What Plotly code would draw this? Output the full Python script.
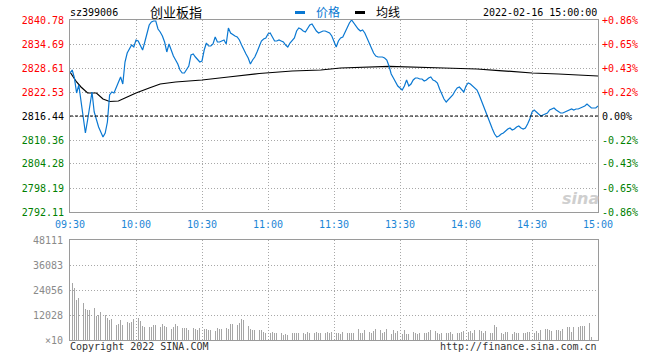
import plotly.graph_objects as go

W, H = 660, 360
BASE = 2816.44

minutes = list(range(241))
time_tick_idx = [0, 30, 60, 90, 120, 150, 180, 210, 240]
time_tick_lbl = ["09:30", "10:00", "10:30", "11:00", "11:30", "13:30", "14:00", "14:30", "15:00"]
price_ticks = [2840.78, 2834.69, 2828.61, 2822.53, 2816.44, 2810.36, 2804.28, 2798.19, 2792.11]
pct_labels = ["+0.86%", "+0.65%", "+0.43%", "+0.22%", "0.00%", "-0.22%", "-0.43%", "-0.65%", "-0.86%"]
vol_ticks = [0, 12028, 24056, 36083, 48111]
vol_tick_lbl = ["×10", "12028", "24056", "36083", "48111"]

price = [
    2827.34, 2828.10, 2826.08, 2822.27, 2824.30, 2820.50, 2815.93, 2812.13, 2815.43, 2818.72,
    2822.53, 2817.46, 2815.43, 2813.66, 2812.39, 2811.12, 2812.13, 2814.92, 2821.77, 2822.53,
    2822.27, 2823.54, 2825.06, 2826.33, 2824.55, 2830.13, 2832.41, 2833.43, 2834.44, 2833.93,
    2835.71, 2835.46, 2834.44, 2833.17, 2835.20, 2837.48, 2839.51, 2840.27, 2840.53, 2840.53,
    2838.50, 2837.74, 2836.72, 2835.20, 2832.67, 2834.69, 2832.92, 2831.65, 2830.64, 2829.62,
    2828.10, 2827.34, 2827.34, 2828.10, 2829.12, 2831.91, 2832.16, 2831.40, 2830.89, 2830.13,
    2830.39, 2833.17, 2834.95, 2834.19, 2834.19, 2834.69, 2836.47, 2835.20, 2835.20, 2835.46,
    2835.71, 2834.69, 2838.75, 2837.48, 2836.98, 2836.72, 2836.47, 2835.71, 2834.44, 2833.17,
    2832.16, 2831.15, 2829.62, 2830.64, 2831.40, 2832.67, 2833.93, 2835.46, 2835.96, 2836.22,
    2837.23, 2837.48, 2836.47, 2835.46, 2835.46, 2835.71, 2835.46, 2835.20, 2834.44, 2833.93,
    2834.95, 2835.46, 2836.22, 2837.99, 2838.75, 2838.50, 2837.99, 2837.74, 2838.75, 2839.51,
    2839.77, 2838.75, 2837.99, 2837.48, 2837.74, 2837.99, 2837.99, 2837.74, 2837.48, 2836.72,
    2835.20, 2833.93, 2835.46, 2836.22, 2836.47, 2837.74, 2838.75, 2840.02, 2840.78, 2840.02,
    2839.01, 2838.50, 2837.99, 2838.25, 2837.48, 2836.22, 2834.95, 2833.68, 2832.41, 2831.65,
    2831.40, 2831.40, 2831.40, 2831.15, 2830.64, 2829.12, 2827.09, 2826.08, 2825.06, 2824.05,
    2823.54, 2823.03, 2824.05, 2825.57, 2824.05, 2824.55, 2825.57, 2826.08, 2826.08, 2825.82,
    2825.82, 2825.32, 2825.57, 2826.08, 2826.33, 2825.57, 2825.32, 2824.81, 2823.29, 2821.77,
    2820.75, 2819.99, 2820.50, 2821.01, 2821.77, 2822.78, 2823.54, 2823.79, 2823.03, 2822.53,
    2824.05, 2824.81, 2824.55, 2824.05, 2823.54, 2823.03, 2821.77, 2820.25, 2818.72, 2817.20,
    2815.93, 2814.67, 2813.15, 2811.88, 2811.12, 2811.37, 2811.88, 2812.13, 2812.64, 2813.15,
    2813.40, 2812.89, 2813.15, 2813.66, 2813.91, 2813.40, 2813.15, 2813.40, 2814.41, 2815.68,
    2817.46, 2817.96, 2817.46, 2816.95, 2816.44, 2816.70, 2816.95, 2817.20, 2817.96, 2818.22,
    2818.47, 2817.96, 2817.46, 2817.20, 2817.20, 2817.46, 2817.71, 2817.96, 2818.22, 2817.96,
    2818.22, 2818.22, 2818.47, 2818.72, 2818.98, 2819.48, 2818.98, 2818.47, 2818.47, 2818.47,
    2818.98,
]

avg_idx = [0, 3, 5, 8, 12, 15, 18, 22, 26, 30, 36, 41, 48, 60, 72, 86, 101, 114, 123,
           140, 145, 170, 185, 195, 210, 222, 240]
avg_val = [2827.60, 2825.06, 2823.79, 2822.27, 2822.27, 2820.75, 2820.12, 2820.25, 2821.26,
           2822.27, 2823.54, 2824.55, 2825.06, 2825.57, 2826.33, 2827.22, 2827.85, 2828.10,
           2828.61, 2828.92, 2829.04, 2828.61, 2828.36, 2827.97, 2827.34, 2827.09, 2826.58]

volume = [
    48111, 27580, 25180, 19240, 20370, 16840, 17640, 14910, 14430, 14430,
    16360, 15240, 11550, 12030, 13630, 9620, 12030, 10420, 9620, 9940,
    10900, 7220, 7700, 9620, 7220, 9620, 8820, 8020, 8820, 9940,
    10740, 10420, 9140, 6740, 6420, 6740, 6090, 6420, 7220, 7220,
    7220, 6090, 7540, 6740, 6420, 5610, 5130, 6420, 7540, 6740,
    6740, 5930, 5610, 5610, 4810, 5930, 5930, 5130, 4810, 5610,
    5450, 5130, 5130, 4810, 4810, 5130, 4490, 5930, 5450, 5130,
    5930, 5930, 5290, 7700, 7540, 5290, 7220, 8340, 10100, 9620,
    8020, 6740, 5130, 4810, 4810, 4490, 4810, 4810, 3690, 3530,
    3850, 3530, 3690, 3210, 3210, 2890, 3210, 2250, 2730, 2250,
    4330, 3530, 3530, 3210, 3210, 4330, 3210, 2890, 3850, 3210,
    3210, 3210, 3850, 3210, 3530, 3210, 3210, 3850, 3530, 4010,
    9620, 3210, 3210, 2730, 3850, 3530, 3530, 3530, 3530, 3530,
    4490, 5290, 3210, 3210, 4810, 4490, 4010, 3530, 4490, 5290,
    4490, 4650, 3210, 4010, 5290, 4490, 2730, 4810, 3530, 4490,
    4490, 2890, 4810, 2730, 2730, 3210, 4010, 3210, 2730, 3210,
    3210, 3210, 3210, 4010, 4810, 3530, 4490, 3530, 2890, 3530,
    3850, 3530, 3210, 4010, 2730, 3210, 3530, 3210, 3850, 4330,
    3210, 3850, 4490, 3530, 4810, 5130, 4810, 4490, 3530, 4490,
    4170, 3210, 3530, 7220, 6090, 4490, 3530, 2890, 3850, 3850,
    3530, 2890, 3850, 3530, 3210, 3530, 3530, 3530, 3850, 4010,
    3530, 3210, 4170, 3530, 4810, 4490, 5130, 5130, 4810, 4490,
    4010, 4810, 4810, 4490, 5130, 4490, 6090, 6090, 4010, 6410,
    6730, 6410, 6730, 6730, 6730, 6730, 8340, 1600, 0, 0,
    0,
]

BLUE = "#0a78d2"
TBLUE = "#1c86d6"
RED = "#ff0000"
GREEN = "#008000"
BORDER = "#9a9a9a"
GRID = "#a8a8a8"
MONO = "DejaVu Sans Mono"
CJK = "Noto Sans CJK SC"


def px(x):
    return x / W


def py(y):
    return 1 - y / H


def colored(labels):
    out = []
    for i, t in enumerate(labels):
        c = RED if i < 4 else ("#000000" if i == 4 else GREEN)
        out.append(f'<span style="color:{c}">{t}</span>')
    return out


pct = [(p - BASE) / BASE * 100 for p in price]
pct_ticks = [(p - BASE) / BASE * 100 for p in price_ticks]

fig = go.Figure()
fig.add_trace(go.Bar(x=minutes, y=volume, xaxis="x2", yaxis="y3", width=0.4,
                     marker=dict(color="#a6a6a6", line=dict(width=0)), hoverinfo="skip"))
fig.add_trace(go.Scatter(x=minutes, y=pct, xaxis="x", yaxis="y2", mode="lines",
                         line=dict(width=0, color="rgba(0,0,0,0)"), hoverinfo="skip"))
fig.add_trace(go.Scatter(x=avg_idx, y=avg_val, xaxis="x", yaxis="y", mode="lines",
                         line=dict(color="#000000", width=1.2)))
fig.add_trace(go.Scatter(x=minutes, y=price, xaxis="x", yaxis="y", mode="lines",
                         line=dict(color=BLUE, width=1.2)))

common_x = dict(domain=[px(70), px(598)], range=[0, 240], tickvals=time_tick_idx,
                showgrid=True, gridcolor=GRID, griddash="1px,2px", gridwidth=1,
                showline=True, mirror=True, linecolor=BORDER, linewidth=1,
                zeroline=False, fixedrange=True, automargin=False)

fig.update_layout(
    width=W, height=H, autosize=False,
    margin=dict(l=0, r=0, t=0, b=0, autoexpand=False),
    paper_bgcolor="white", plot_bgcolor="white",
    showlegend=False, bargap=0,
    font=dict(family=MONO, size=10, color="#000"),
    xaxis=dict(**common_x, anchor="y", ticktext=time_tick_lbl,
               tickfont=dict(family=MONO, size=10, color=TBLUE),
               ticks="outside", ticklen=3, tickcolor="rgba(0,0,0,0)"),
    yaxis=dict(domain=[py(212), py(20)], range=[price_ticks[-1], price_ticks[0]],
               anchor="x", tickvals=price_ticks, ticktext=colored(price_ticks),
               tickfont=dict(family=MONO, size=10),
               ticks="outside", ticklen=3, tickcolor="rgba(0,0,0,0)",
               showgrid=True, gridcolor=GRID, griddash="1px,2px", gridwidth=1,
               showline=True, mirror=True, linecolor=BORDER, linewidth=1,
               zeroline=False, fixedrange=True, automargin=False),
    yaxis2=dict(overlaying="y", side="right", anchor="x",
                range=[pct_ticks[-1], pct_ticks[0]], tickvals=pct_ticks,
                ticktext=colored(pct_labels), tickfont=dict(family=MONO, size=10),
                ticks="outside", ticklen=1, tickcolor="rgba(0,0,0,0)",
                showgrid=False, showline=False, zeroline=False, fixedrange=True,
                automargin=False),
    xaxis2=dict(**common_x, anchor="y3", showticklabels=False, ticks=""),
    yaxis3=dict(domain=[py(340), py(240)], range=[0, vol_ticks[-1]], anchor="x2",
                tickvals=vol_ticks, ticktext=vol_tick_lbl,
                tickfont=dict(family=MONO, size=10, color="#8a8a8a"),
                ticks="outside", ticklen=4, tickcolor="rgba(0,0,0,0)",
                showgrid=True, gridcolor=GRID, griddash="1px,2px", gridwidth=1,
                showline=True, mirror=True, linecolor=BORDER, linewidth=1,
                zeroline=False, fixedrange=True, automargin=False),
)

shapes = [
    dict(type="line", xref="x", yref="y", x0=0, x1=240, y0=BASE, y1=BASE,
         line=dict(color="#000000", width=1, dash="3px,2px")),
    dict(type="rect", xref="paper", yref="paper", x0=px(295), x1=px(305), y0=py(14), y1=py(11),
         fillcolor=BLUE, line=dict(width=0)),
    dict(type="rect", xref="paper", yref="paper", x0=px(355), x1=px(365), y0=py(14), y1=py(11),
         fillcolor="#000000", line=dict(width=0)),
]
fig.update_layout(shapes=shapes)

ann = [
    dict(text="sz399006", x=px(68), y=py(13), xanchor="left", font=dict(family=MONO, size=10, color="#000")),
    dict(text="创业板指", x=px(148), y=py(12), xanchor="left", font=dict(family=CJK, size=13, color="#000")),
    dict(text="价格", x=px(314), y=py(12), xanchor="left", font=dict(family=CJK, size=12, color=BLUE)),
    dict(text="均线", x=px(374), y=py(12), xanchor="left", font=dict(family=CJK, size=12, color="#000")),
    dict(text="2022-02-16 15:00:00", x=px(599), y=py(13), xanchor="right", font=dict(family=MONO, size=10, color="#000")),
    dict(text="Copyright 2022 SINA.COM", x=px(68), y=py(346), xanchor="left", font=dict(family=MONO, size=10, color="#333")),
    dict(text="http://finance.sina.com.cn", x=px(599), y=py(346), xanchor="right", font=dict(family=MONO, size=10, color="#333")),
    dict(text="<b><i>sina</i></b>", x=px(580), y=py(198), xanchor="center", font=dict(family="DejaVu Sans", size=16, color="#cfcfcf")),
]
for a in ann:
    a.update(xref="paper", yref="paper", yanchor="middle", showarrow=False)
fig.update_layout(annotations=ann)

fig.write_html("out.html", config={"displayModeBar": False, "staticPlot": True},
               post_script="document.body.style.margin='0';document.body.style.overflow='hidden';")
